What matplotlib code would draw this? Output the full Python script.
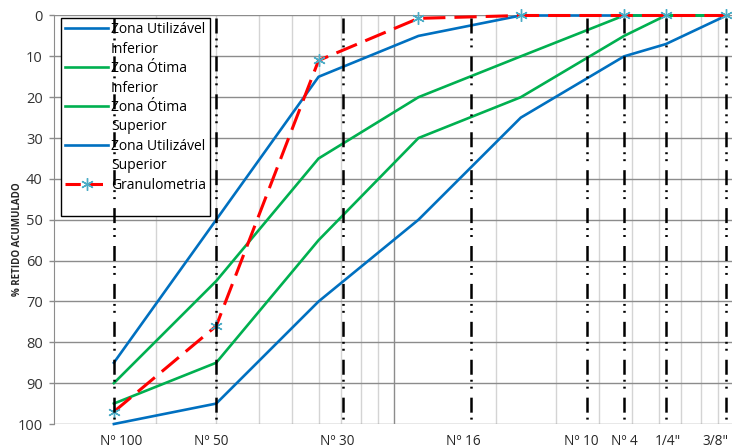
import matplotlib
matplotlib.use("Agg")
import matplotlib.pyplot as plt
from matplotlib.lines import Line2D
from matplotlib.ticker import FixedLocator, NullFormatter

plt.rcParams['font.family'] = ['Open Sans', 'DejaVu Sans']
plt.rcParams['lines.scale_dashes'] = False

# abertura das peneiras (mm)
sizes = [0.15, 0.3, 0.6, 1.18, 2.36, 4.75, 6.3, 9.5]

util_inf = [85, 50, 15, 5, 0, 0, 0, 0]
otima_inf = [90, 65, 35, 20, 10, 0, 0, 0]
otima_sup = [95, 85, 55, 30, 20, 5, 0, 0]
util_sup = [100, 95, 70, 50, 25, 10, 7, 0]
granulo = [97, 76, 11, 0.7, 0, 0, 0, 0]

# linhas verticais das peneiras e rótulos
sieve_names = ["Nº 100", "Nº 50", "Nº 30", "Nº 16", "Nº 10", "Nº 4", "1/4\"", "3/8\""]
sieve_lines = [0.15, 0.30, 0.71, 1.68, 3.7, 4.75, 6.3, 9.5]
label_pos = [0.158, 0.29, 0.68, 1.6, 3.55, 4.75, 6.4, 8.1]

blue = '#0070C0'
green = '#00B050'
red = '#FF0000'
star = '#4BACC6'

fig = plt.figure(figsize=(7.32, 4.48), dpi=100)
ax = fig.add_axes([54/732, 24/448, 680/732, 408.5/448])

ax.set_xscale('log')
ax.set_xlim(0.1, 10)
ax.set_ylim(100, 0)

lw = 1.9
ax.plot(sizes, util_inf, color=blue, lw=lw, zorder=3, clip_on=False)
ax.plot(sizes, otima_inf, color=green, lw=lw, zorder=3, clip_on=False)
ax.plot(sizes, otima_sup, color=green, lw=lw, zorder=3, clip_on=False)
ax.plot(sizes, util_sup, color=blue, lw=lw, zorder=3, clip_on=False)
ax.plot(sizes, granulo, color=red, lw=2.2, dashes=(16, 6.5), zorder=4, clip_on=False,
        marker=(6, 2, 0), markersize=9, markeredgecolor=star, markeredgewidth=1.0)

for xv in sieve_lines:
    ax.plot([xv, xv], [0.5, 100], color='black', lw=1.8, solid_capstyle='butt',
            dash_capstyle='butt', dashes=(10.8, 3.6, 1.4, 3.6, 1.4, 6.5), zorder=6, clip_on=False)

for name, xv in zip(sieve_names, label_pos):
    ha = 'left' if name == "3/8\"" else 'center'
    ax.text(xv, -0.042, name, transform=ax.get_xaxis_transform(), ha=ha, va='center',
            fontsize=9.8, color='#262626')

# grade
ax.xaxis.set_minor_locator(FixedLocator([0.2, 0.3, 0.4, 0.5, 0.6, 0.7, 0.8, 0.9,
                                         2, 3, 4, 5, 6, 7, 8, 9]))
ax.xaxis.set_major_locator(FixedLocator([1]))
ax.xaxis.set_major_formatter(NullFormatter())
ax.xaxis.set_minor_formatter(NullFormatter())
ax.tick_params(axis='x', which='both', length=0)
ax.grid(True, which='major', axis='both', color='#8C8C8C', lw=1.0, zorder=0)
ax.grid(True, which='minor', axis='x', color='#D4D4D4', lw=1.0, zorder=0)
ax.set_axisbelow(True)

ax.set_yticks(range(0, 101, 10))
ax.tick_params(axis='y', direction='out', length=3.6, width=1, color='#8C8C8C',
               labelsize=10.5, labelcolor='#333333', pad=4.5)
for side in ['top', 'right', 'bottom']:
    ax.spines[side].set_visible(False)
ax.spines['left'].set_color('#8C8C8C')

fig.text(18/732, 1 - 239/448, "% RETIDO ACUMULADO", rotation=90, ha='center', va='center',
         fontsize=7.0, fontweight='bold', color='#262626')

# legenda
blank = Line2D([], [], lw=0)
handles = [
    Line2D([], [], color=blue, lw=lw), blank,
    Line2D([], [], color=green, lw=lw), blank,
    Line2D([], [], color=green, lw=lw), blank,
    Line2D([], [], color=blue, lw=lw), blank,
    Line2D([], [], color=red, lw=2.2, dashes=(11, 5), marker=(6, 2, 0), markersize=9,
           markeredgecolor=star, markeredgewidth=1.0), blank,
]
labels = ["Zona Utilizável", "Inferior", "Zona Ótima", "Inferior", "Zona Ótima",
          "Superior", "Zona Utilizável", "Superior", "Granulometria", " "]
leg = ax.legend(handles, labels, loc='upper left', bbox_to_anchor=(7/680, 1 - 2.5/408.5),
                borderaxespad=0, fontsize=10, handlelength=3.1, handletextpad=0.2,
                labelspacing=0.32, borderpad=0.3, fancybox=False, framealpha=1,
                edgecolor='black')
leg.get_frame().set_linewidth(1.0)
leg.set_zorder(5)

fig.savefig('out.png', dpi=100)
